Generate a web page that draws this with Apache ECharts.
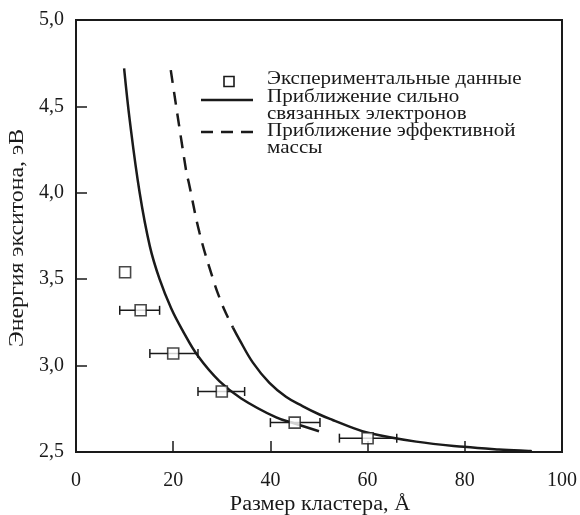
<!DOCTYPE html>
<html>
<head>
<meta charset="utf-8">
<script src="https://cdn.jsdelivr.net/npm/echarts@6/dist/echarts.min.js"></script>
<style>
  html, body { margin: 0; padding: 0; background: #fff; }
  #chart { width: 580px; height: 515px; }
</style>
</head>
<body>
<div id="chart"></div>
<script>
// Experimental points: cluster size (Å), exciton energy (eV), size error bounds
const expSize   = [10.1, 13.3, 20.0, 30.0, 45.0, 60.0];
const expEnergy = [3.54, 3.32, 3.07, 2.85, 2.67, 2.58];
const expLow    = [null, 9.0, 15.2, 25.1, 40.0, 54.2];
const expHigh   = [null, 17.2, 25.1, 34.7, 50.2, 66.0];

// Tight-binding approximation curve
const tbSize   = [9.9, 11.1, 13.1, 15.2, 17.2, 19.6, 22.0, 25.1, 29.5, 34.0, 41.2, 45.0, 50.0];
const tbEnergy = [4.72, 4.41, 4.00, 3.69, 3.50, 3.33, 3.20, 3.055, 2.91, 2.81, 2.70, 2.665, 2.62];

// Effective-mass approximation: dashed upper part, solid lower part
const emDashSize   = [19.5, 22.7, 23.2, 25.4, 28.2, 29.9, 30.9, 32.3];
const emDashEnergy = [4.71, 4.12, 4.06, 3.77, 3.50, 3.365, 3.30, 3.22];
const emSolidSize   = [32.3, 33.6, 36.4, 39.8, 43.2, 46.6, 50.1, 52.8, 56.0, 60.3, 70.0, 79.8, 87.0, 93.8];
const emSolidEnergy = [3.22, 3.152, 3.017, 2.90, 2.82, 2.766, 2.717, 2.685, 2.65, 2.61, 2.56, 2.53, 2.515, 2.505];

const xTicks = [0, 20, 40, 60, 80, 100];
const yTicks = [2.5, 3.0, 3.5, 4.0, 4.5, 5.0];

const xTitle = 'Размер кластера, Å';
const yTitle = 'Энергия экситона, эВ';
const legendLines = [
  'Экспериментальные данные',
  'Приближение сильно',
  'связанных электронов',
  'Приближение эффективной',
  'массы'
];

const ink = '#1a1a1a';
const serif = '"Liberation Serif", "DejaVu Serif", serif';

const zip = (a, b) => a.map((v, i) => [v, b[i]]);
const expPoints = zip(expSize, expEnergy);
const errData = expSize.map((v, i) => [expLow[i], expHigh[i], expEnergy[i]]).filter(d => d[0] != null);

const chart = echarts.init(document.getElementById('chart'), null, { renderer: 'canvas' });

// serif text, slightly widened to the proportions of the typeset labels
const label = (text, x, y, opts) => Object.assign({
  type: 'text', x, y, scaleX: 1.17,
  style: { text, x: 0, y: 0, font: '18px ' + serif, fill: ink, align: 'left', verticalAlign: 'middle' }
}, opts || {});

const option = {
  animation: false,
  backgroundColor: '#fff',
  grid: {
    left: 76, right: 17, top: 20, bottom: 63,
    show: true, borderColor: ink, borderWidth: 2, backgroundColor: 'transparent'
  },
  xAxis: {
    type: 'value', min: 0, max: 100, interval: 20,
    axisLine: { lineStyle: { color: ink, width: 2 } },
    axisTick: { inside: true, length: 11, lineStyle: { color: ink, width: 1.5 } },
    axisLabel: { fontFamily: serif, fontSize: 20, color: ink, margin: 19,
      formatter: v => xTicks.includes(v) ? String(v) : '' },
    splitLine: { show: false }
  },
  yAxis: {
    type: 'value', min: 2.5, max: 5.0, interval: 0.5,
    axisLine: { lineStyle: { color: ink, width: 2 } },
    axisTick: { inside: true, length: 11, lineStyle: { color: ink, width: 1.5 } },
    axisLabel: { fontFamily: serif, fontSize: 20, color: ink, margin: 12,
      formatter: v => yTicks.some(t => Math.abs(t - v) < 1e-9) ? v.toFixed(1).replace('.', ',') : '' },
    splitLine: { show: false }
  },
  series: [
    {
      type: 'line', data: zip(tbSize, tbEnergy), smooth: 0.4, symbol: 'none',
      lineStyle: { color: ink, width: 2.5 }, z: 3
    },
    {
      type: 'line', data: zip(emDashSize, emDashEnergy), smooth: 0.4, symbol: 'none',
      lineStyle: { color: ink, width: 2.5, type: [13, 9] }, z: 3
    },
    {
      type: 'line', data: zip(emSolidSize, emSolidEnergy), smooth: 0.4, symbol: 'none',
      lineStyle: { color: ink, width: 2.5 }, z: 3
    },
    {
      // horizontal error bars with end caps
      type: 'custom', z: 4,
      data: errData,
      renderItem: (params, api) => {
        const lo = api.coord([api.value(0), api.value(2)]);
        const hi = api.coord([api.value(1), api.value(2)]);
        const cap = 4.5;
        const style = { stroke: ink, lineWidth: 1.5 };
        return {
          type: 'group',
          children: [
            { type: 'line', shape: { x1: lo[0], y1: lo[1], x2: hi[0], y2: hi[1] }, style },
            { type: 'line', shape: { x1: lo[0], y1: lo[1] - cap, x2: lo[0], y2: lo[1] + cap }, style },
            { type: 'line', shape: { x1: hi[0], y1: hi[1] - cap, x2: hi[0], y2: hi[1] + cap }, style }
          ]
        };
      }
    },
    {
      type: 'scatter', data: expPoints, symbol: 'rect', symbolSize: 11, z: 5,
      itemStyle: { color: '#fff', borderColor: ink, borderWidth: 1.6 }
    }
  ],
  graphic: [
    // axis titles
    label(xTitle, 320, 505, { scaleX: 1.11,
      style: { text: xTitle, x: 0, y: 0, font: '20px ' + serif, fill: ink, align: 'center', verticalAlign: 'middle' } }),
    label(yTitle, 18, 238, { scaleX: 1.19, rotation: Math.PI / 2,
      style: { text: yTitle, x: 0, y: 0, font: '20px ' + serif, fill: ink, align: 'center', verticalAlign: 'middle' } }),
    // legend
    { type: 'rect', shape: { x: 224, y: 76.5, width: 10, height: 10 },
      style: { fill: '#fff', stroke: ink, lineWidth: 1.6 } },
    { type: 'line', shape: { x1: 201, y1: 100, x2: 253, y2: 100 },
      style: { stroke: ink, lineWidth: 2.5 } },
    { type: 'line', shape: { x1: 201, y1: 132, x2: 253, y2: 132 },
      style: { stroke: ink, lineWidth: 2.5, lineDash: [12, 8] } },
    label(legendLines[0], 267, 79),
    label(legendLines[1], 267, 97.3),
    label(legendLines[2], 267, 114.7),
    label(legendLines[3], 267, 131.3),
    label(legendLines[4], 267, 148)
  ]
};

chart.setOption(option);
</script>
</body>
</html>
